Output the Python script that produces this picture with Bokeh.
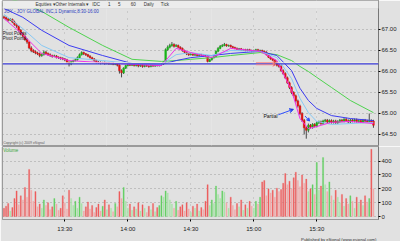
from bokeh.plotting import figure
from bokeh.layouts import column
from bokeh.models import (Range1d, Label, Span, FixedTicker, Grid, Arrow, VeeHead,
                          NumeralTickFormatter, BoxAnnotation, Title)
from bokeh.embed import file_html
from bokeh.resources import INLINE

# ---------------- data (1-minute bars, minutes after 13:00) ----------------
opens = [67.30,67.28,67.25,67.22,67.24,67.18,67.12,67.08,66.98,66.90,
66.84,66.76,66.70,66.56,66.50,66.47,66.44,66.42,66.38,66.40,
66.46,66.43,66.40,66.38,66.36,66.37,66.34,66.33,66.31,66.30,
66.28,66.22,66.18,66.23,66.26,66.28,66.33,66.40,66.45,66.42,
66.40,66.36,66.33,66.30,66.26,66.22,66.21,66.20,66.21,66.19,
66.20,66.18,66.19,66.17,66.18,66.15,66.02,65.97,66.08,66.14,
66.16,66.15,66.17,66.14,66.16,66.13,66.15,66.12,66.14,66.13,
66.12,66.14,66.13,66.15,66.14,66.16,66.18,66.22,66.52,66.58,
66.62,66.64,66.60,66.62,66.58,66.55,66.50,66.46,66.42,66.40,
66.41,66.39,66.40,66.38,66.40,66.39,66.37,66.36,66.24,66.28,
66.33,66.36,66.48,66.55,66.60,66.62,66.64,66.61,66.62,66.59,
66.57,66.55,66.53,66.54,66.51,66.52,66.50,66.52,66.50,66.48,
66.50,66.52,66.49,66.50,66.48,66.46,66.40,66.34,66.30,66.27,
66.22,66.15,66.12,66.02,65.95,65.85,65.73,65.62,65.50,65.42,
65.30,65.18,65.00,64.84,64.66,64.60,64.72,64.68,64.74,64.70,
64.78,64.80,64.76,64.82,64.84,64.80,64.83,64.79,64.82,64.78,
64.81,64.84,64.82,64.86,64.83,64.80,64.84,64.82,64.85,64.81,
64.83,64.80,64.84,64.82,64.81,64.83,64.82]
highs = [67.33,67.31,67.27,67.27,67.26,67.21,67.15,67.10,67.01,66.93,
66.86,66.79,66.72,66.60,66.53,66.50,66.47,66.45,66.43,66.50,
66.49,66.45,66.43,66.40,66.40,66.39,66.36,66.35,66.34,66.32,
66.30,66.24,66.25,66.28,66.31,66.36,66.43,66.48,66.47,66.44,
66.42,66.39,66.35,66.32,66.28,66.25,66.24,66.23,66.24,66.22,
66.22,66.21,66.22,66.20,66.20,66.17,66.05,66.10,66.16,66.18,
66.18,66.19,66.19,66.18,66.18,66.17,66.17,66.16,66.16,66.15,
66.16,66.16,66.17,66.17,66.18,66.20,66.25,66.55,66.62,66.66,
66.70,66.67,66.65,66.64,66.60,66.57,66.52,66.48,66.44,66.43,
66.43,66.42,66.42,66.42,66.42,66.41,66.39,66.38,66.30,66.35,
66.38,66.50,66.58,66.63,66.65,66.68,66.66,66.64,66.64,66.61,
66.59,66.57,66.56,66.56,66.54,66.54,66.54,66.54,66.52,66.52,
66.54,66.54,66.52,66.52,66.50,66.48,66.42,66.36,66.32,66.29,
66.24,66.18,66.15,66.05,65.98,65.88,65.76,65.65,65.53,65.45,
65.33,65.21,65.03,64.87,64.70,64.76,64.75,64.77,64.77,64.81,
64.83,64.83,64.85,64.87,64.87,64.86,64.86,64.85,64.85,64.84,
64.87,64.87,64.89,64.90,64.86,64.87,64.87,64.88,64.88,64.86,
64.86,64.87,64.87,64.85,65.00,64.86,64.85]
lows = [67.25,67.22,67.19,67.20,67.15,67.09,67.04,66.95,66.86,66.81,
66.73,66.66,66.53,66.46,66.44,66.41,66.39,66.34,66.35,66.38,
66.40,66.37,66.35,66.33,66.34,66.31,66.30,66.28,66.27,66.25,
66.19,66.12,66.15,66.21,66.24,66.26,66.31,66.38,66.39,66.37,
66.34,66.31,66.27,66.23,66.19,66.18,66.17,66.18,66.16,66.17,
66.16,66.16,66.15,66.15,66.12,65.95,65.86,65.94,66.06,66.12,
66.13,66.13,66.12,66.12,66.10,66.11,66.09,66.10,66.11,66.09,
66.10,66.11,66.11,66.12,66.12,66.14,66.16,66.20,66.49,66.55,
66.59,66.57,66.58,66.55,66.52,66.47,66.43,66.39,66.37,66.38,
66.37,66.37,66.36,66.36,66.37,66.35,66.34,66.20,66.22,66.26,
66.31,66.34,66.46,66.53,66.58,66.60,66.59,66.59,66.57,66.55,
66.53,66.51,66.51,66.49,66.49,66.48,66.48,66.48,66.46,66.46,
66.48,66.47,66.47,66.46,66.44,66.38,66.32,66.28,66.25,66.19,
66.12,66.09,65.99,65.92,65.82,65.70,65.58,65.46,65.38,65.26,
65.14,64.96,64.80,64.50,64.40,64.55,64.64,64.64,64.67,64.67,
64.75,64.73,64.73,64.79,64.77,64.77,64.76,64.76,64.75,64.75,
64.78,64.79,64.79,64.80,64.77,64.77,64.79,64.79,64.78,64.78,
64.77,64.77,64.79,64.78,64.78,64.77,64.66]
closes = [67.28,67.25,67.22,67.24,67.18,67.12,67.08,66.98,66.90,66.84,
66.76,66.70,66.56,66.50,66.47,66.44,66.42,66.38,66.40,66.46,
66.43,66.40,66.38,66.36,66.37,66.34,66.33,66.31,66.30,66.28,
66.22,66.18,66.23,66.26,66.28,66.33,66.40,66.45,66.42,66.40,
66.36,66.33,66.30,66.26,66.22,66.21,66.20,66.21,66.19,66.20,
66.18,66.19,66.17,66.18,66.15,66.02,65.97,66.08,66.14,66.16,
66.15,66.17,66.14,66.16,66.13,66.15,66.12,66.14,66.13,66.12,
66.14,66.13,66.15,66.14,66.16,66.18,66.22,66.52,66.58,66.62,
66.64,66.60,66.62,66.58,66.55,66.50,66.46,66.42,66.40,66.41,
66.39,66.40,66.38,66.40,66.39,66.37,66.36,66.24,66.28,66.33,
66.36,66.48,66.55,66.60,66.62,66.64,66.61,66.62,66.59,66.57,
66.55,66.53,66.54,66.51,66.52,66.50,66.52,66.50,66.48,66.50,
66.52,66.49,66.50,66.48,66.46,66.40,66.34,66.30,66.27,66.22,
66.15,66.12,66.02,65.95,65.85,65.73,65.62,65.50,65.42,65.30,
65.18,65.00,64.84,64.66,64.60,64.72,64.68,64.74,64.70,64.78,
64.80,64.76,64.82,64.84,64.80,64.83,64.79,64.82,64.78,64.81,
64.84,64.82,64.86,64.83,64.80,64.84,64.82,64.85,64.81,64.83,
64.80,64.84,64.82,64.81,64.83,64.80,64.72]
volumes = [60,75,95,40,65,130,185,85,150,120,
210,140,340,190,110,180,70,90,60,120,
80,100,50,70,130,90,45,60,150,100,
55,190,130,80,110,60,140,95,40,70,
105,55,80,30,65,90,40,75,120,50,
85,60,35,95,70,180,130,210,110,60,
90,45,70,55,100,40,85,60,30,75,
50,95,35,65,80,150,140,185,170,120,
90,60,110,45,70,85,40,100,55,30,
75,60,90,40,65,50,110,230,80,120,
95,220,160,130,185,175,100,60,140,80,
50,95,70,120,45,85,60,110,75,60,
110,90,140,250,260,150,200,170,190,140,
205,180,195,240,310,230,255,200,280,320,
260,215,300,240,270,180,200,230,160,390,
190,220,425,230,180,250,150,120,190,140,
100,160,75,130,90,150,110,60,140,95,
120,80,150,105,130,485,200]
minutes = list(range(1, len(closes) + 1))

# moving-average studies, read at a set of minutes
ma_minutes   = [1, 10, 19, 32, 48, 62, 76, 83, 90, 100, 109, 123, 131, 138, 142, 146, 150, 157, 166, 177]
ma_green     = [67.76, 67.64, 67.43, 67.05, 66.62, 66.29, 66.24, 66.26, 66.29, 66.33, 66.38, 66.45, 66.40, 66.26, 66.12, 66.00, 65.86, 65.62, 65.31, 65.02]
ma_blue      = [67.50, 67.29, 66.98, 66.62, 66.38, 66.19, 66.17, 66.26, 66.33, 66.38, 66.43, 66.48, 66.38, 66.02, 65.60, 65.31, 65.12, 64.95, 64.88, 64.83]
ma_lightblue = [67.36, 67.02, 66.62, 66.33, 66.26, 66.19, 66.17, 66.40, 66.45, 66.38, 66.50, 66.48, 66.33, 65.83, 65.36, 65.02, 64.81, 64.74, 64.76, 64.79]
ma_magenta   = [67.26, 66.88, 66.43, 66.26, 66.21, 66.17, 66.14, 66.55, 66.45, 66.33, 66.55, 66.48, 66.26, 65.55, 64.88, 64.64, 64.69, 64.79, 64.81, 64.76]

tick_minutes = [30, 60, 90, 120, 150]
tick_labels = ["13:30", "14:00", "14:30", "15:00", "15:30"]
price_ticks = [64.5, 65.0, 65.5, 66.0, 66.5, 67.0]
volume_ticks = [0, 100, 200, 300, 400]
pivot_level = 66.18
toolbar_items = ["Equities \u25be", "Other Internals \u25be", "IDC", "1", "5", "60", "Daily", "Tick"]
toolbar_minutes = [16, 25.5, 43, 50.5, 55.3, 61.4, 67.6, 75.7]

# ---------------- styling ----------------
BG = "#e1e1e1"
FONT = "Liberation Sans"
X0, X1 = 0.3, 179.4
PRICE_TOP = 67.69      # includes the 8-px toolbar strip above 67.5
STRIP = 67.5

up = [c >= o for o, c in zip(opens, closes)]
body_col = ["#18b418" if u else "#e01010" for u in up]
vol_col = []
for i, (u, v) in enumerate(zip(up, volumes)):
    light = i > 0 and v < volumes[i - 1]
    if u:
        vol_col.append("#a9e3a9" if light else "#62d062")
    else:
        vol_col.append("#f2aaaa" if light else "#ee5c5c")

# ---------------- price panel ----------------
p = figure(width=400, height=146, x_range=Range1d(X0, X1), y_range=Range1d(64.238, PRICE_TOP),
           output_backend="svg", toolbar_location=None, x_axis_location=None,
           y_axis_location="right", min_border_left=2, min_border_right=22,
           min_border_top=0, min_border_bottom=1, background_fill_color=BG,
           border_fill_color=BG, outline_line_color="#9a9a9a")
p.yaxis.ticker = FixedTicker(ticks=price_ticks)
p.yaxis.formatter = NumeralTickFormatter(format="0.00")
p.yaxis.major_label_text_font_size = "6px"
p.yaxis.major_label_text_font = FONT
p.yaxis.major_label_text_color = "#222222"
p.yaxis.major_label_standoff = 1
p.yaxis.major_tick_out = 2
p.yaxis.major_tick_in = 0
p.yaxis.minor_tick_out = 0
p.yaxis.axis_line_color = "#777777"
p.ygrid.grid_line_color = "#9c9c9c"
p.ygrid.grid_line_dash = "1 3"
p.add_layout(Grid(dimension=0, ticker=FixedTicker(ticks=tick_minutes),
                  grid_line_color="#b0b0b0", grid_line_dash="1 6"))

p.add_layout(Span(location=pivot_level + 0.025, dimension="width", line_color="#f4f4e0", line_width=1))
p.add_layout(Span(location=pivot_level, dimension="width", line_color="#3a3ad8", line_width=1.3))

p.segment(x0=minutes, y0=lows, x1=minutes, y1=highs, line_color="#4a4a4a", line_width=1)
p.vbar(x=minutes, width=0.8,
       top=[max(o, c) for o, c in zip(opens, closes)],
       bottom=[min(o, c) for o, c in zip(opens, closes)],
       fill_color=body_col, line_color=body_col, line_width=0.5)

p.line(ma_minutes, ma_green, line_color="#4fd24f", line_width=1)
p.line(ma_minutes, ma_blue, line_color="#3c3cf0", line_width=1)
p.line(ma_minutes, ma_lightblue, line_color="#86c8f4", line_width=1)
p.line(ma_minutes, ma_magenta, line_color="#f030e8", line_width=1)

p.add_layout(Label(x=1.0, y=67.44, text="JOY - JOY GLOBAL INC,1 Dynamic,8:30-16:00",
                   text_font_size="4.5px", text_color="#2a3cc0", text_baseline="middle", text_font=FONT))
p.add_layout(Label(x=0.4, y=66.905, text="Pivot Points", text_font_size="4.5px",
                   text_color="#202020", text_baseline="middle", text_font=FONT))
p.add_layout(Label(x=0.4, y=66.786, text="Pivot Points", text_font_size="4.5px",
                   text_color="#202020", text_baseline="middle", text_font=FONT))
p.add_layout(Label(x=0.6, y=64.30, text="Copyright (c) 2009 eSignal", text_font_size="3.5px",
                   text_color="#606060", text_baseline="middle", text_font=FONT))
p.add_layout(Label(x=124.6, y=64.95, text="Partial", text_font_size="5px",
                   text_color="#101010", text_baseline="middle", text_font=FONT))
p.add_layout(Arrow(x_start=131.7, y_start=64.97, x_end=138.9, y_end=65.10,
                   line_color="#3050ff", line_width=1,
                   end=VeeHead(size=4, line_color="#3050ff", line_width=1)))
p.add_layout(Arrow(x_start=144.4, y_start=64.94, x_end=146.6, y_end=64.82,
                   line_color="#3050ff", line_width=1,
                   end=VeeHead(size=3, line_color="#3050ff", line_width=1)))
for yy in (66.21, 66.16):
    p.add_layout(Arrow(x_start=121.0, y_start=yy, x_end=130.5, y_end=yy,
                       line_color="#ff7a7a", line_width=0.8,
                       end=VeeHead(size=3, line_color="#ff7a7a", line_width=0.8)))

# toolbar strip along the top of the window
p.add_layout(BoxAnnotation(bottom=STRIP, fill_color="#ececec", fill_alpha=1.0,
                           line_color="#b8b8b8", line_width=0.6, level="overlay"))
p.scatter(x=[1.3, 3.6], y=[67.595, 67.595], size=3.5, marker="square",
          fill_color=["#7aa04a", "#5577bb"], line_color="#555555", line_width=0.4, level="overlay")
p.scatter(x=[6.0], y=[67.595], size=2.5, marker="circle", fill_color="#333333", line_color=None, level="overlay")
p.scatter(x=[14.4, 23.9], y=[67.595, 67.595], size=3.5, marker="square",
          fill_color="#f0d060", line_color="#a08020", line_width=0.4, level="overlay")
p.scatter(x=[41.6, 49.1, 53.9, 60.0, 66.2, 74.3], y=[67.595] * 6, size=3.5, marker="circle",
          fill_color="#f6f6f6", line_color="#555555", line_width=0.5, level="overlay")
for xm, t in zip(toolbar_minutes, toolbar_items):
    p.add_layout(Label(x=xm, y=67.595, text=t, text_font_size="4.5px", text_color="#333333",
                       text_baseline="middle", text_font=FONT, level="overlay"))

# ---------------- volume panel ----------------
v = figure(width=400, height=95, x_range=p.x_range, y_range=Range1d(-21, 505),
           output_backend="svg", toolbar_location=None, y_axis_location="right",
           min_border_left=2, min_border_right=22, min_border_top=0, min_border_bottom=20,
           background_fill_color=BG, border_fill_color=BG, outline_line_color="#9a9a9a")
v.vbar(x=minutes, width=0.55, top=volumes, bottom=0, fill_color=vol_col, line_color=vol_col, line_width=0.3)
v.yaxis.ticker = FixedTicker(ticks=volume_ticks)
v.yaxis.major_label_text_font_size = "6px"
v.yaxis.major_label_text_font = FONT
v.yaxis.major_label_text_color = "#222222"
v.yaxis.major_label_standoff = 1
v.yaxis.major_tick_out = 2
v.yaxis.major_tick_in = 0
v.yaxis.minor_tick_out = 0
v.yaxis.axis_line_color = "#777777"
v.xaxis.ticker = FixedTicker(ticks=tick_minutes)
v.xaxis.major_label_overrides = {m: s for m, s in zip(tick_minutes, tick_labels)}
v.xaxis.major_label_text_font_size = "6px"
v.xaxis.major_label_text_font = FONT
v.xaxis.major_label_text_color = "#222222"
v.xaxis.major_label_standoff = 4
v.xaxis.major_tick_out = 2
v.xaxis.major_tick_in = 0
v.xaxis.minor_tick_out = 0
v.xaxis.axis_line_color = "#9a9a9a"
v.ygrid.grid_line_color = "#9c9c9c"
v.ygrid.grid_line_dash = "1 3"
v.xgrid.grid_line_color = "#b0b0b0"
v.xgrid.grid_line_dash = "1 6"
v.add_layout(Label(x=0.6, y=478, text="Volume", text_font_size="4.5px", text_color="#3aa63a",
                   text_baseline="middle", text_font=FONT))
v.add_layout(Title(text="Published by eSignal (www.esignal.com)", align="right",
                   text_font_size="4.2px", text_font_style="normal", text_color="#333333",
                   text_font=FONT, standoff=0, offset=2), "below")

layout = column(p, v, spacing=0)
open("out.html", "w").write(file_html(layout, INLINE))
